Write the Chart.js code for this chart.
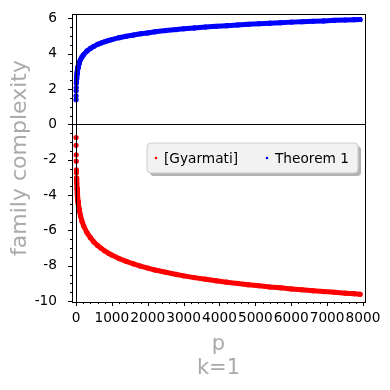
<!DOCTYPE html>
<html>
<head>
<meta charset="utf-8">
<script src="https://cdn.jsdelivr.net/npm/chart.js@4.4.1/dist/chart.umd.min.js"></script>
<style>
  html, body { margin: 0; padding: 0; background: #fff; }
  #wrap { width: 390px; height: 390px; position: relative; }
</style>
</head>
<body>
<div id="wrap"><canvas id="chart"></canvas></div>
<script>
// primes p (x values), sampled along the curves
const primes = [2, 3, 5, 7, 11, 13, 17, 19, 23, 29, 31, 37, 41, 43, 47, 53, 59, 61, 67, 71, 79, 89, 97,
  127, 167, 211, 307, 401, 499, 601, 701, 797, 907, 997, 1201, 1399, 1601, 1801, 1999, 2203, 2503,
  2801, 3001, 3299, 3607, 3907, 4201, 4507, 4801, 5101, 5407, 5701, 6007, 6301, 6607, 6907, 7207,
  7507, 7753, 7919];

// [Gyarmati] (red)
const gyarmati = [-0.74, -1.18, -1.72, -2.08, -2.57, -2.74, -3.03, -3.15, -3.35, -3.60, -3.67, -3.86, -3.97, -4.02, -4.12, -4.25, -4.36, -4.40, -4.50, -4.56, -4.67, -4.80, -4.90,
  -5.18, -5.48, -5.73, -6.13, -6.41, -6.65, -6.85, -7.01, -7.15, -7.29, -7.39, -7.59, -7.75, -7.89, -8.02, -8.13, -8.24, -8.37,
  -8.49, -8.57, -8.67, -8.76, -8.85, -8.93, -9.00, -9.07, -9.13, -9.20, -9.25, -9.31, -9.36, -9.41, -9.46, -9.50,
  -9.55, -9.58, -9.61];

// Theorem 1 (blue)
const theorem1 = [1.40, 1.62, 1.90, 2.09, 2.33, 2.43, 2.57, 2.63, 2.74, 2.87, 2.90, 3.00, 3.06, 3.08, 3.13, 3.20, 3.25, 3.27, 3.32, 3.36, 3.41, 3.48, 3.53,
  3.67, 3.82, 3.95, 4.16, 4.30, 4.42, 4.53, 4.61, 4.68, 4.75, 4.80, 4.91, 4.99, 5.06, 5.13, 5.18, 5.24, 5.31,
  5.37, 5.41, 5.46, 5.51, 5.55, 5.59, 5.63, 5.67, 5.70, 5.73, 5.76, 5.79, 5.81, 5.84, 5.86, 5.89,
  5.91, 5.93, 5.94];

const xTicks = [0, 1000, 2000, 3000, 4000, 5000, 6000, 7000, 8000];
const yTicks = [-10, -8, -6, -4, -2, 0, 2, 4, 6];
const seriesLabels = ['[Gyarmati]', 'Theorem 1'];
const seriesColors = ['#ff0000', '#0000ff'];

const FONT = "'DejaVu Sans', sans-serif";
const TITLE_GREY = '#aaaaaa';
const firstJoined = 6; // small primes are drawn as separate dots

const toPts = (ys) => primes.map((p, i) => ({ x: p, y: ys[i] }));

const mkSet = (label, ys, color) => ({
  label: label,
  data: toPts(ys),
  showLine: true,
  borderColor: color,
  backgroundColor: color,
  borderWidth: 5,
  borderCapStyle: 'round',
  borderJoinStyle: 'round',
  pointRadius: 2.6,
  pointBorderWidth: 0,
  pointHoverRadius: 2.6,
  segment: {
    borderColor: ctx => ctx.p0DataIndex < firstJoined ? 'rgba(0,0,0,0)' : undefined
  }
});

// frame, zero axes, minor ticks
const framePlugin = {
  id: 'frame',
  afterDatasetsDraw(chart) {
    const { ctx, chartArea: a, scales: { x, y } } = chart;
    ctx.save();
    ctx.strokeStyle = '#000';
    ctx.lineWidth = 1;
    // axes through 0
    const x0 = Math.round(x.getPixelForValue(0)) + 0.5;
    const y0 = Math.round(y.getPixelForValue(0)) + 0.5;
    ctx.beginPath();
    ctx.moveTo(x0, a.top); ctx.lineTo(x0, a.bottom);
    ctx.moveTo(a.left, y0); ctx.lineTo(a.right, y0);
    ctx.stroke();
    ctx.strokeRect(Math.round(a.left) + 0.5, Math.round(a.top) + 0.5,
      Math.round(a.right - a.left), Math.round(a.bottom - a.top));
    // ticks outside the frame
    ctx.beginPath();
    for (let v = 0; v <= 8000; v += 200) {
      const px = Math.round(x.getPixelForValue(v)) + 0.5;
      const len = v % 1000 === 0 ? 4 : 2;
      ctx.moveTo(px, a.bottom); ctx.lineTo(px, a.bottom + len);
    }
    for (let v = -10; v <= 6; v += 0.5) {
      const py = Math.round(y.getPixelForValue(v)) + 0.5;
      const len = v % 2 === 0 ? 4 : 2;
      ctx.moveTo(a.left, py); ctx.lineTo(a.left - len, py);
    }
    ctx.stroke();
    ctx.restore();
  }
};

// boxed legend with shadow, as in the reference
const legendPlugin = {
  id: 'boxLegend',
  afterDraw(chart) {
    const { ctx } = chart;
    const bx = 147, by = 143, bw = 211, bh = 30, r = 4;
    ctx.save();
    const path = (ox, oy) => {
      ctx.beginPath();
      ctx.roundRect(bx + ox, by + oy, bw, bh, r);
    };
    ctx.fillStyle = '#b3b3b3';
    path(3, 3); ctx.fill();
    ctx.fillStyle = '#f2f2f2';
    path(0, 0); ctx.fill();
    ctx.strokeStyle = '#cccccc';
    ctx.lineWidth = 1;
    ctx.stroke();
    ctx.font = '13.7px ' + FONT;
    ctx.textBaseline = 'middle';
    ctx.textAlign = 'left';
    const entries = [{ dx: 156, tx: 164 }, { dx: 267, tx: 275 }];
    chart.data.datasets.forEach((ds, i) => {
      const e = entries[i];
      ctx.fillStyle = ds.borderColor;
      ctx.beginPath();
      ctx.arc(e.dx, by + bh / 2, 1.3, 0, Math.PI * 2);
      ctx.fill();
      ctx.fillStyle = '#000';
      ctx.fillText(ds.label, e.tx, by + bh / 2 + 1);
    });
    ctx.restore();
  }
};

new Chart(document.getElementById('chart'), {
  type: 'scatter',
  data: {
    datasets: [
      mkSet(seriesLabels[0], gyarmati, seriesColors[0]),
      mkSet(seriesLabels[1], theorem1, seriesColors[1])
    ]
  },
  options: {
    responsive: true,
    maintainAspectRatio: false,
    animation: false,
    events: [],
    layout: { padding: { top: 14, right: 25, left: 0, bottom: 0 } },
    plugins: {
      legend: { display: false },
      tooltip: { enabled: false }
    },
    scales: {
      x: {
        type: 'linear',
        min: -111,
        max: 8056,
        afterBuildTicks: s => { s.ticks = xTicks.map(v => ({ value: v })); },
        // fixed box, no label overhang padding
        afterFit: s => { s.height = 88; s.paddingLeft = 0; s.paddingRight = 0; },
        grid: { display: false },
        border: { display: false },
        ticks: {
          color: '#000',
          font: { family: FONT, size: 13.7 },
          padding: 0,
          maxRotation: 0,
          autoSkip: false,
          callback: v => String(v)
        },
        title: {
          display: true,
          text: ['p', 'k=1'],
          color: TITLE_GREY,
          font: { family: FONT, size: 21, lineHeight: 1.15 },
          padding: { top: 0, bottom: 9 }
        }
      },
      y: {
        type: 'linear',
        min: -10.05,
        max: 6.25,
        afterBuildTicks: s => { s.ticks = yTicks.map(v => ({ value: v })); },
        afterFit: s => { s.width = 72; s.paddingTop = 0; s.paddingBottom = 0; },
        grid: { display: false },
        border: { display: false },
        ticks: {
          color: '#000',
          font: { family: FONT, size: 13.7 },
          padding: 7,
          callback: v => String(v)
        },
        title: {
          display: true,
          text: 'family complexity',
          color: TITLE_GREY,
          font: { family: FONT, size: 22, lineHeight: 1.15 },
          padding: { top: 8, bottom: 0 }
        }
      }
    }
  },
  plugins: [framePlugin, legendPlugin]
});
</script>
</body>
</html>
